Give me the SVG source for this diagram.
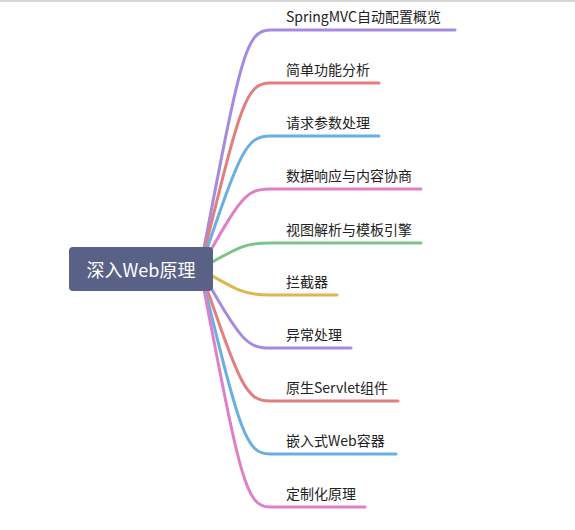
<svg xmlns="http://www.w3.org/2000/svg" width="575" height="530" viewBox="0 0 575 530">
<style>
.br{fill:none;stroke-width:3;stroke-linecap:round}
.lbl{font-family:"Noto Sans CJK SC","Microsoft YaHei",sans-serif;font-size:14px;fill:#222}
.root{font-family:"Noto Sans CJK SC","Microsoft YaHei",sans-serif;font-size:18px;fill:#fff}
.c1{stroke:#a58be0}.c2{stroke:#e37e7e}.c3{stroke:#69afe2}.c4{stroke:#df80c6}.c5{stroke:#7dc487}.c6{stroke:#dfb553}
</style>
<rect width="575" height="530" fill="#fff"/>
<line x1="0" y1="1" x2="575" y2="1" stroke="#c8c8c8" stroke-width="1.5"/>
<g id="connectors">
<path class="br c1" d="M200 269 C240 60 245 30 270 30 L455 30"/>
<path class="br c2" d="M200 269 C240 107 245 83 270 83 L379 83"/>
<path class="br c3" d="M200 269 C240 153 245 136 270 136 L379 136"/>
<path class="br c4" d="M200 269 C240 199 245 189 270 189 L421 189"/>
<path class="br c5" d="M200 269 C240 246 245 243 270 243 L421 243"/>
<path class="br c6" d="M200 269 C240 292 245 295 270 295 L337 295"/>
<path class="br c1" d="M200 269 C240 338 245 348 270 348 L351 348"/>
<path class="br c2" d="M200 269 C240 384 245 401 270 401 L398 401"/>
<path class="br c3" d="M200 269 C240 431 245 454 270 454 L396 454"/>
<path class="br c4" d="M200 269 C240 477 245 507 270 507 L365 507"/>
</g>
<g id="root">
<rect x="69" y="247" width="144" height="44" rx="4" fill="#5a6187"/>
<text class="root" x="141" y="277" text-anchor="middle">深入Web原理</text>
</g>
<g id="n1"><text class="lbl" x="286" y="22">SpringMVC自动配置概览</text></g>
<g id="n2"><text class="lbl" x="286" y="75">简单功能分析</text></g>
<g id="n3"><text class="lbl" x="286" y="128">请求参数处理</text></g>
<g id="n4"><text class="lbl" x="286" y="181">数据响应与内容协商</text></g>
<g id="n5"><text class="lbl" x="286" y="235">视图解析与模板引擎</text></g>
<g id="n6"><text class="lbl" x="286" y="287">拦截器</text></g>
<g id="n7"><text class="lbl" x="286" y="340">异常处理</text></g>
<g id="n8"><text class="lbl" x="286" y="393">原生Servlet组件</text></g>
<g id="n9"><text class="lbl" x="286" y="446">嵌入式Web容器</text></g>
<g id="n10"><text class="lbl" x="286" y="499">定制化原理</text></g>
</svg>
